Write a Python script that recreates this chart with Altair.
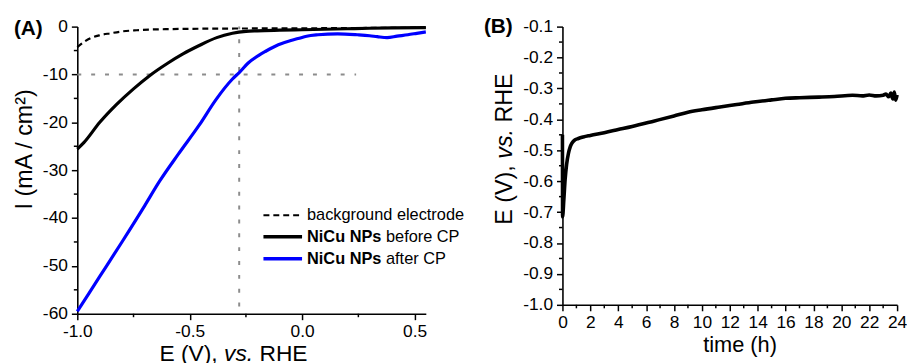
import altair as alt
import pandas as pd

# ---------------- Panel A data (LSV curves) ----------------
bg_E = [-1.0, -0.97, -0.94, -0.9, -0.853, -0.8, -0.736, -0.68, -0.59, -0.5, -0.4, -0.3, -0.2, 0.0, 0.2, 0.4, 0.55]
bg_I = [-4.3, -3.2, -2.4, -1.8, -1.4, -1.0, -0.76, -0.62, -0.52, -0.46, -0.42, -0.4, -0.38, -0.35, -0.3, -0.25, -0.2]

before_E = [-1.0, -0.97, -0.9, -0.824, -0.75, -0.68, -0.6, -0.53, -0.46, -0.38, -0.31, -0.25, -0.2, -0.1, 0.0, 0.1, 0.2, 0.3, 0.4, 0.55]
before_I = [-25.6, -24.2, -20.0, -16.2, -13.0, -10.3, -7.7, -5.7, -4.0, -2.3, -1.4, -1.0, -0.88, -0.75, -0.65, -0.55, -0.45, -0.35, -0.28, -0.2]

after_E = [-1.0, -0.9, -0.8, -0.7, -0.634, -0.55, -0.458, -0.384, -0.311, -0.28, -0.24, -0.193, -0.164, -0.106,
           -0.05, -0.018, 0.02, 0.07, 0.158, 0.246, 0.3, 0.334, 0.378, 0.422, 0.47, 0.51, 0.55]
after_I = [-59.5, -52.2, -44.9, -37.4, -32.3, -26.6, -20.6, -15.3, -11.0, -9.6, -7.6, -6.0, -5.2, -3.8,
           -2.9, -2.5, -2.0, -1.7, -1.5, -1.7, -1.9, -2.1, -2.3, -2.0, -1.7, -1.4, -1.1]

guide_I = -10
guide_E = -0.28
guide_h_end = 0.24

A_xticks = [-1.0, -0.5, 0.0, 0.5]
A_xminor = [-0.75, -0.25, 0.25]
A_yticks = [0, -10, -20, -30, -40, -50, -60]
A_yminor = [-5, -15, -25, -35, -45, -55]

legend_bold = ["", "NiCu NPs", "NiCu NPs"]
legend_rest = ["background electrode", "before CP", "after CP"]

# ---------------- Panel B data (chronopotentiometry) ----------------
time_h = [0.0, 0.01, 0.1, 0.19, 0.3, 0.43, 0.55, 0.67, 0.85, 1.14, 1.5, 2.0, 3.0, 4.0, 5.0, 6.6, 8.0, 9.0, 10.0,
          11.3, 12.5, 13.7, 15.0, 16.0, 17.0, 18.4, 19.5, 20.8, 21.5, 22.0, 22.5, 23.0, 23.2, 23.4, 23.55, 23.7,
          23.8, 23.9, 24.0]
potential = [-0.45, -0.715, -0.66, -0.596, -0.545, -0.51, -0.49, -0.478, -0.468, -0.462, -0.457, -0.452, -0.443,
             -0.433, -0.423, -0.405, -0.389, -0.377, -0.369, -0.36, -0.352, -0.344, -0.337, -0.332, -0.33, -0.328,
             -0.326, -0.322, -0.324, -0.321, -0.324, -0.322, -0.318, -0.327, -0.315, -0.334, -0.312, -0.338, -0.321]

B_xticks = list(range(0, 25, 2))
B_xminor = list(range(1, 24, 2))
B_yticks = [-1.0, -0.9, -0.8, -0.7, -0.6, -0.5, -0.4, -0.3, -0.2, -0.1]
B_yminor = [-0.95, -0.85, -0.75, -0.65, -0.55, -0.45, -0.35, -0.25, -0.15]

FONT = "Liberation Sans"
W_A, H_A = 352, 290
W_B, H_B = 338, 281
TFS = 23.5  # axis title font size
EM = TFS
TFS_AX = 23

MINUS_FIX = "replace(datum.label, '\u2212', '-')"

xA = alt.Scale(domain=[-1.0, 0.55], nice=False, zero=False)
yA = alt.Scale(domain=[-60, 0], nice=False, zero=False)
xB = alt.Scale(domain=[0, 24], nice=False, zero=False)
yB = alt.Scale(domain=[-1.0, -0.1], nice=False, zero=False)


def axis(values, fmt, pad=4):
    return alt.Axis(values=values, format=fmt, title=None, grid=False, labelFlush=False,
                    labelOverlap=False, labelExpr=MINUS_FIX, labelPadding=pad)


axA_x = axis(A_xticks, ".1f", 3)
axA_y = axis(A_yticks, "d")
axB_x = axis(B_xticks, "d", 3)
axB_y = axis(B_yticks, ".1f")


def one(text):
    return pd.DataFrame({"t": [text]})


def label(text, x, y, size, align="left", baseline="middle", angle=0, weight="normal", style="normal"):
    kw = dict(font=FONT, fontSize=size, align=align, baseline=baseline, fontWeight=weight,
              fontStyle=style, color="black")
    if angle:
        kw["angle"] = angle
    return alt.Chart(one(text)).mark_text(**kw).encode(text="t:N", x=alt.value(x), y=alt.value(y))


# ---- Panel A layers ----
df_bg = pd.DataFrame({"x": bg_E, "y": bg_I})
df_before = pd.DataFrame({"x": before_E, "y": before_I})
df_after = pd.DataFrame({"x": after_E, "y": after_I})


def encA(ch):
    return ch.encode(x=alt.X("x:Q", scale=xA, axis=axA_x), y=alt.Y("y:Q", scale=yA, axis=axA_y))


guide_h = alt.Chart(pd.DataFrame({"x": [-1.0], "x2": [guide_h_end], "y": [guide_I]})).mark_rule(
    color="#8c8c8c", strokeWidth=2, strokeDash=[4, 10]).encode(
    x=alt.X("x:Q", scale=xA, axis=axA_x), x2="x2:Q", y=alt.Y("y:Q", scale=yA, axis=axA_y))
guide_v = alt.Chart(pd.DataFrame({"x": [guide_E], "y": [-58.5], "y2": [0]})).mark_rule(
    color="#8c8c8c", strokeWidth=2, strokeDash=[4, 10]).encode(
    x=alt.X("x:Q", scale=xA, axis=axA_x), y=alt.Y("y:Q", scale=yA, axis=axA_y), y2="y2:Q")

line_bg = encA(alt.Chart(df_bg).mark_line(color="black", strokeWidth=2.2, strokeDash=[6, 4], interpolate="monotone"))
line_before = encA(alt.Chart(df_before).mark_line(color="black", strokeWidth=3.2, interpolate="monotone"))
line_after = encA(alt.Chart(df_after).mark_line(color="#0000ff", strokeWidth=3.2, interpolate="monotone"))

minorA_x = alt.Chart(pd.DataFrame({"x": A_xminor})).mark_rule(color="black", strokeWidth=1.5).encode(
    x=alt.X("x:Q", scale=xA, axis=axA_x), y=alt.value(H_A), y2=alt.value(H_A + 3.5))
minorA_y = alt.Chart(pd.DataFrame({"y": A_yminor})).mark_rule(color="black", strokeWidth=1.5).encode(
    y=alt.Y("y:Q", scale=yA, axis=axA_y), x=alt.value(0), x2=alt.value(-3.5))

# legend (manual, to allow bold part)
LX0, LX1, LT = 188, 227, 232
LY = [190.5, 212.2, 234.5]
LFS = 16.5
leg_sym = [
    alt.Chart(one("a")).mark_rule(color="black", strokeWidth=2.2, strokeDash=[6, 4]).encode(
        x=alt.value(LX0), x2=alt.value(LX1), y=alt.value(LY[0])),
    alt.Chart(one("b")).mark_rule(color="black", strokeWidth=3.5).encode(
        x=alt.value(LX0), x2=alt.value(LX1), y=alt.value(LY[1])),
    alt.Chart(one("c")).mark_rule(color="#0000ff", strokeWidth=3.5).encode(
        x=alt.value(LX0), x2=alt.value(LX1), y=alt.value(LY[2])),
]
bold_w = 4.556 * LFS + 0.278 * LFS
leg_txt = [
    label(legend_rest[0], LT, LY[0], LFS),
    label(legend_bold[1], LT, LY[1], LFS, weight="bold"),
    label(legend_rest[1], LT + bold_w, LY[1], LFS),
    label(legend_bold[2], LT, LY[2], LFS, weight="bold"),
    label(legend_rest[2], LT + bold_w, LY[2], LFS),
]

# titles for A
ax_left = 83
ax_base = 337.5
titleA_x = [
    label("E (V),", ax_left, ax_base, TFS_AX, baseline="alphabetic"),
    label("vs.", ax_left + 2.834 * TFS_AX, ax_base, TFS_AX, baseline="alphabetic", style="italic"),
    label("RHE", ax_left + 4.39 * TFS_AX, ax_base, TFS_AX, baseline="alphabetic"),
]
titleA_y = label("I (mA / cm\u00b2)", -45.7, 124, TFS, align="center", baseline="alphabetic", angle=270)
tagA = label("(A)", -64, 2, 21, weight="bold")

panelA = alt.layer(guide_h, guide_v, line_bg, line_before, line_after, minorA_x, minorA_y,
                   *leg_sym, *leg_txt, *titleA_x, titleA_y, tagA).properties(width=W_A, height=H_A)

# ---- Panel B layers ----
df_cp = pd.DataFrame({"x": time_h, "y": potential})
line_cp = alt.Chart(df_cp).mark_line(color="black", strokeWidth=3.6, interpolate="monotone").encode(
    x=alt.X("x:Q", scale=xB, axis=axB_x), y=alt.Y("y:Q", scale=yB, axis=axB_y))
minorB_x = alt.Chart(pd.DataFrame({"x": B_xminor})).mark_rule(color="black", strokeWidth=1.5).encode(
    x=alt.X("x:Q", scale=xB, axis=axB_x), y=alt.value(H_B), y2=alt.value(H_B + 3.5))
minorB_y = alt.Chart(pd.DataFrame({"y": B_yminor})).mark_rule(color="black", strokeWidth=1.5).encode(
    y=alt.Y("y:Q", scale=yB, axis=axB_y), x=alt.value(0), x2=alt.value(-3.5))

by_base_x = -50.6
by_bottom = 200
titleB_y = [
    label("E (V),", by_base_x, by_bottom, TFS, baseline="alphabetic", angle=270),
    label("vs.", by_base_x, by_bottom - 2.834 * EM, TFS, baseline="alphabetic", angle=270, style="italic"),
    label("RHE", by_base_x, by_bottom - 4.39 * EM, TFS, baseline="alphabetic", angle=270),
]
titleB_x = label("time (h)", 179.4, 329, 22, align="center", baseline="alphabetic")
tagB = label("(B)", -79.3, 0.5, 21, weight="bold")

panelB = alt.layer(line_cp, minorB_x, minorB_y, *titleB_y, titleB_x, tagB).properties(width=W_B, height=H_B)

chart = alt.hconcat(panelA, panelB, spacing=138, bounds="flush").properties(
    padding={"left": 5, "top": 6, "right": 0, "bottom": 0}
).configure_view(stroke=None).configure_axis(
    labelFont=FONT, labelFontSize=17.5, labelColor="black", domainColor="black", domainWidth=1.6,
    tickColor="black", tickWidth=1.5, tickSize=6,
)

chart.save("out.html", embed_options={"renderer": "svg", "actions": False})
